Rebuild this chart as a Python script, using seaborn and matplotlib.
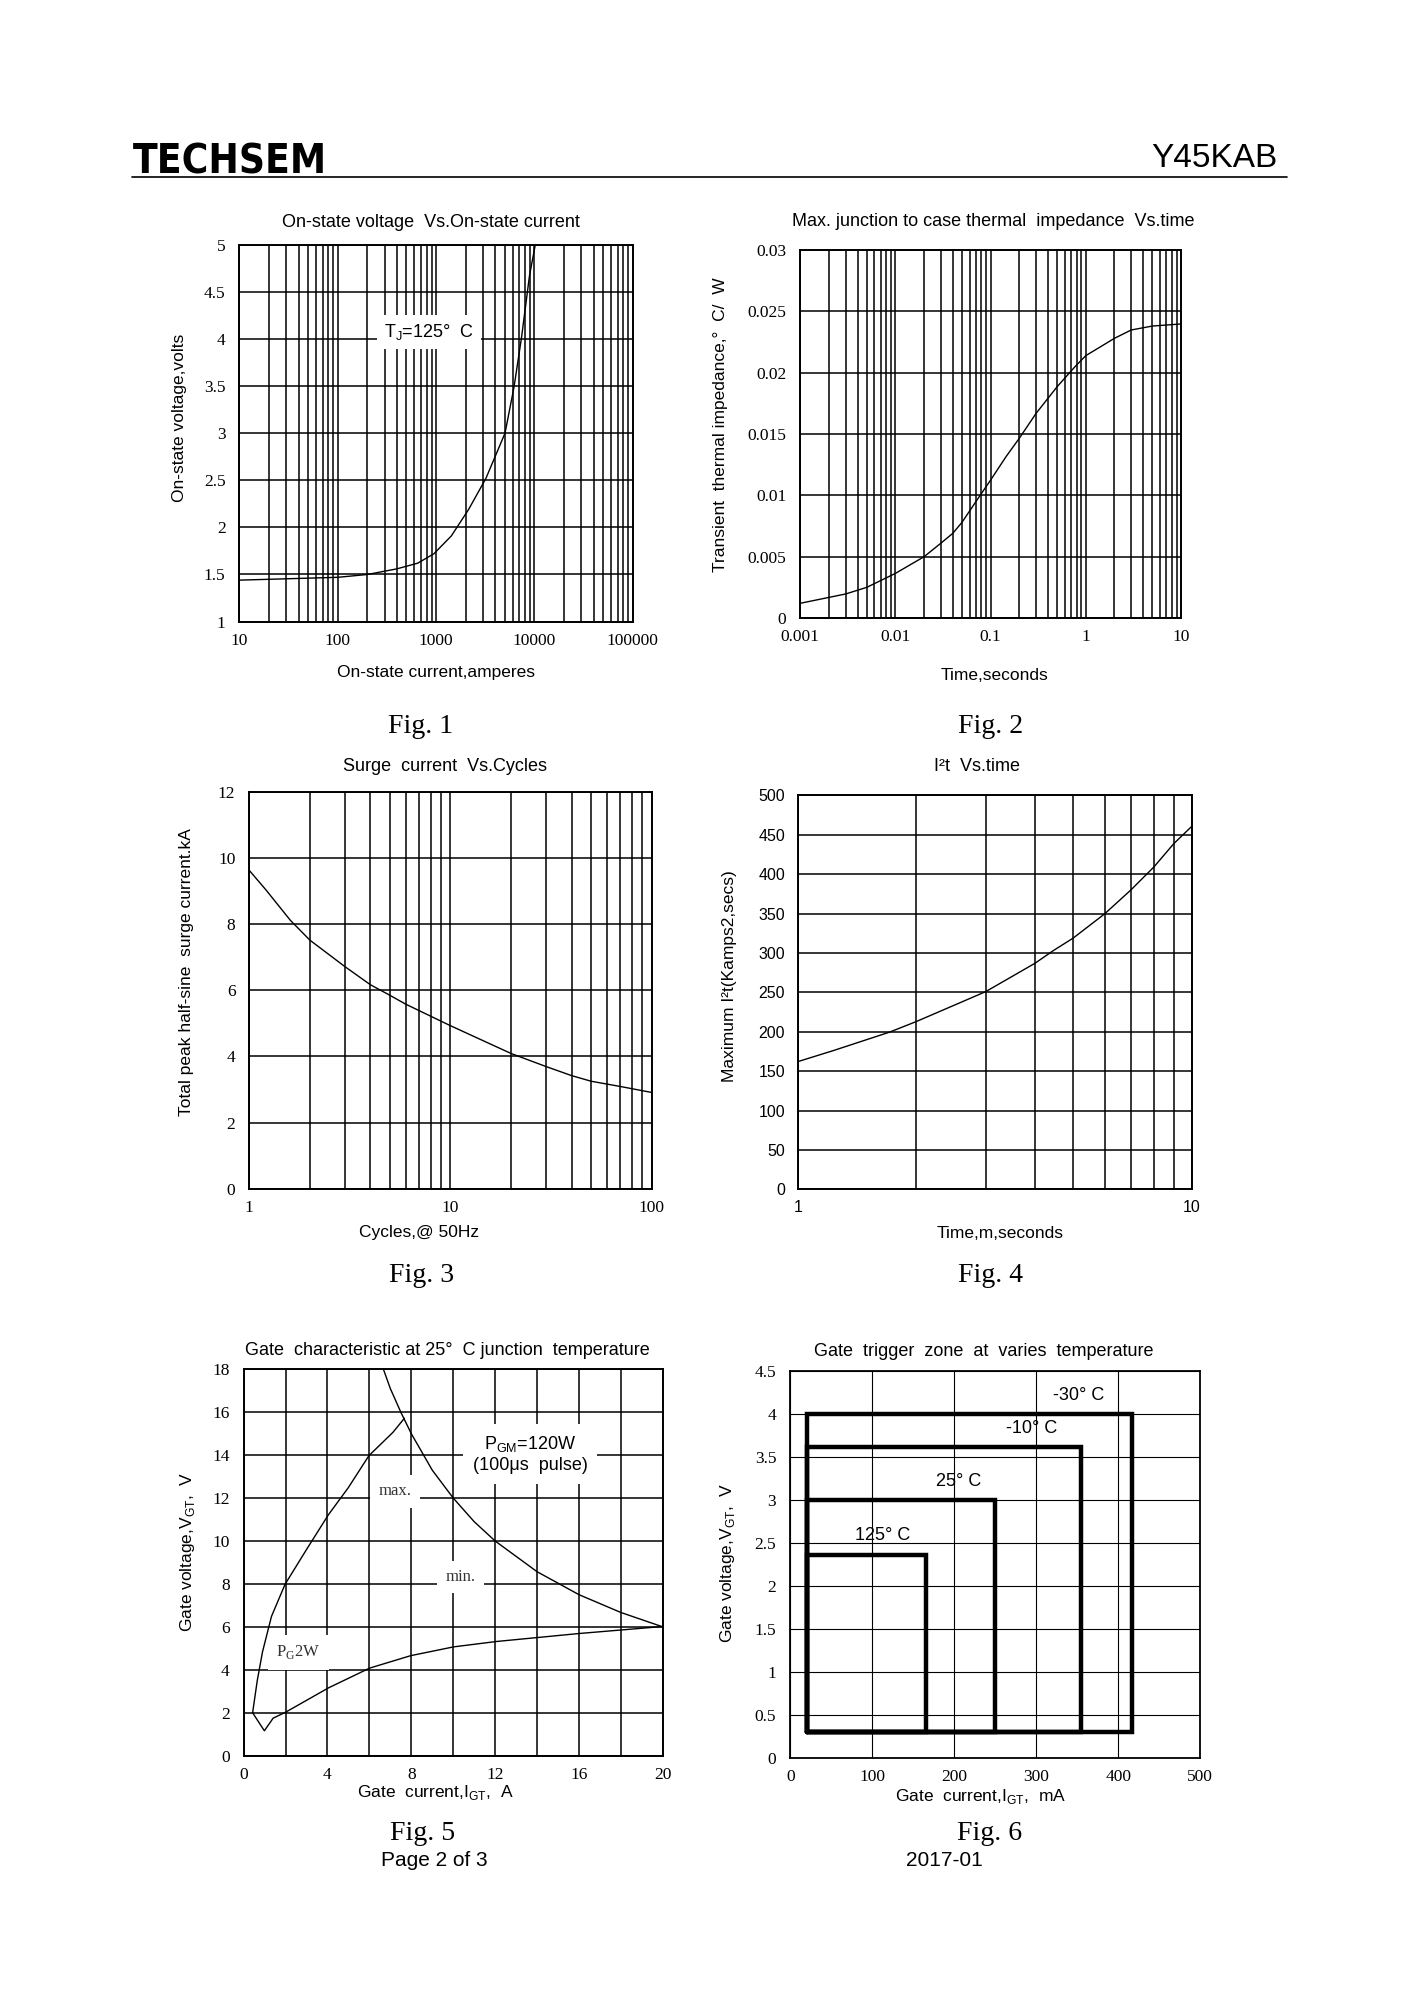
import numpy as np
import pandas as pd
import matplotlib
matplotlib.use('Agg')
import matplotlib.pyplot as plt
from matplotlib import font_manager
from matplotlib.lines import Line2D
from matplotlib.ticker import NullFormatter
import seaborn as sns

# --- data ---

# Fig.1 on-state voltage vs on-state current (Tj=125C)
vt_current = [10, 100, 200, 400, 650, 950, 1430, 2140, 3210, 5020, 6200, 7400, 8900, 10200]
vt_voltage = [1.44, 1.47, 1.50, 1.56, 1.62, 1.72, 1.91, 2.19, 2.52, 3.00, 3.49, 4.02, 4.67, 5.00]

# Fig.2 transient thermal impedance vs time
zth_time = [0.001, 0.002, 0.003, 0.005, 0.01, 0.02, 0.03, 0.04, 0.05, 0.076, 0.1, 0.145, 0.2, 0.3,
            0.5, 0.77, 1, 2, 3, 5, 10]
zth_value = [0.0012, 0.00168, 0.00196, 0.0025, 0.00364, 0.0050, 0.0061, 0.0069, 0.0078, 0.0099,
             0.01125, 0.01315, 0.01465, 0.01668, 0.01886, 0.02049, 0.02139, 0.0228, 0.02348,
             0.0238, 0.02397]

# Fig.3 surge current vs cycles
surge_cycles = [1, 1.21, 1.6, 2, 3, 4, 5, 6, 10, 20, 30, 40, 50, 70, 100]
surge_ka = [9.63, 9.04, 8.12, 7.52, 6.71, 6.17, 5.85, 5.58, 4.93, 4.09, 3.69, 3.42, 3.25, 3.09, 2.91]

# Fig.4 I2t vs time
i2t_time = [1, 1.23, 1.71, 2, 2.53, 3, 3.52, 4, 4.45, 5, 6, 7, 8, 9, 10]
i2t_value = [162, 176, 199.5, 213, 235, 251, 271, 287, 303, 319, 349.5, 380, 409, 439, 461]

# Fig.5 gate characteristic
pgm_current = [6.67, 7, 7.5, 8, 9, 10, 11, 12, 14, 16, 18, 20]
pgm_voltage = [18, 17.1, 16, 15, 13.3, 12, 10.9, 10, 8.57, 7.5, 6.67, 6]
gate_max_i = [0.43, 0.65, 0.90, 1.33, 1.98, 3.03, 4.05, 4.99, 5.98, 7.12, 7.67]
gate_max_v = [2.0, 3.49, 4.83, 6.49, 7.99, 9.65, 11.23, 12.48, 13.98, 15.06, 15.72]
gate_min_i = [0.43, 0.99, 1.41, 2.01, 4.05, 6.01, 7.97, 10.02, 12.06, 15.98, 20]
gate_min_v = [2.0, 1.16, 1.75, 2.03, 3.16, 4.08, 4.66, 5.07, 5.32, 5.69, 6.02]

# Fig.6 gate trigger zones
zone_labels = ['-30° C', '-10° C', '25° C', '125° C']
zone_igt_min = 20
zone_vgt_min = 0.3
zone_igt_max = [417, 355, 250, 166]
zone_vgt_max = [4.0, 3.62, 3.0, 2.36]

W, H = 1414, 2000

sns.set_style('white')
plt.rcParams['font.family'] = ['Liberation Sans', 'DejaVu Sans']
plt.rcParams.update({'text.color': 'black', 'axes.labelcolor': 'black',
                     'xtick.color': 'black', 'ytick.color': 'black'})
SERIF = 'Liberation Serif'

fig = plt.figure(figsize=(W / 100, H / 100), dpi=100)


def panel(l, t, r, b):
    # axes from page pixel box
    return fig.add_axes([l / W, 1 - b / H, (r - l) / W, (b - t) / H])


def page(px, py):
    return px / W, 1 - py / H


def frame(ax, grid_lw=1.1, spine_lw=1.4):
    ax.grid(True, which='both', color='black', linewidth=grid_lw)
    for s in ax.spines.values():
        s.set_color('black')
        s.set_linewidth(spine_lw)
    ax.tick_params(which='both', length=0)


def labels(ax, title, tpos, xlabel, xpos, ylabel, ypos, fig_no, fpos):
    fig.text(*page(*tpos), title, ha='center', va='center', fontsize=13)
    ax.set_xlabel(xlabel, fontsize=12.5, va='center')
    ax.xaxis.set_label_coords(*page(*xpos), transform=fig.transFigure)
    ax.set_ylabel(ylabel, fontsize=12.5, va='center', ha='center')
    ax.yaxis.set_label_coords(*page(*ypos), transform=fig.transFigure)
    fig.text(*page(*fpos), fig_no, ha='center', va='center', fontsize=20, family=SERIF)


# header logo: prefer a condensed bold sans if one is installed
logo_font = None
for f in font_manager.fontManager.ttflist:
    narrow = ('narrow' in f.name.lower() or 'condensed' in f.name.lower()
              or str(f.stretch) in ('condensed', 'semi-condensed', 'extra-condensed'))
    if narrow and str(f.weight) in ('700', 'bold') and f.style == 'normal':
        logo_font = font_manager.FontProperties(fname=f.fname, size=34.5)
        break
if logo_font is None:
    logo_font = font_manager.FontProperties(family='Liberation Sans', weight='bold', size=34.5)
logo = fig.text(*page(133, 173), 'TECHSEM', fontproperties=logo_font, ha='left', va='baseline')
# fit the logo to its width on the page (about 194 px)
fig.canvas.draw()
logo.set_fontsize(34.5 * 194 / logo.get_window_extent().width)

fig.text(*page(1277, 167), 'Y45KAB', fontsize=24, ha='right', va='baseline')
fig.add_artist(Line2D([132 / W, 1287 / W], [1 - 177 / H] * 2, color='black', lw=1.2))

# ---- Fig.1 ----
ax1 = panel(239.4, 244.7, 632.8, 621.6)
sns.lineplot(data=pd.DataFrame({'i': vt_current, 'v': vt_voltage}), x='i', y='v',
             color='black', linewidth=1.0, ax=ax1)
ax1.set_xscale('log')
ax1.set_xlim(10, 100000)
ax1.set_ylim(1, 5)
ax1.set_xticks([10, 100, 1000, 10000, 100000], ['10', '100', '1000', '10000', '100000'])
ax1.set_yticks(np.arange(1, 5.01, 0.5), ['1', '1.5', '2', '2.5', '3', '3.5', '4', '4.5', '5'])
ax1.xaxis.set_minor_formatter(NullFormatter())
frame(ax1)
ax1.tick_params(axis='x', pad=8, labelsize=12.5, labelfontfamily=SERIF)
ax1.tick_params(axis='y', pad=10, labelsize=12.5, labelfontfamily=SERIF)
ax1.text(843, 4.07, 'T$_\\mathregular{J}$=125°  C', fontsize=13, ha='center', va='center',
         bbox=dict(facecolor='white', edgecolor='none', pad=5))
labels(ax1, 'On-state voltage  Vs.On-state current', (430.5, 222.5),
       'On-state current,amperes', (436, 672), 'On-state voltage,volts', (179, 418),
       'Fig. 1', (421, 727))

# ---- Fig.2 ----
ax2 = panel(800.3, 250, 1181, 618)
sns.lineplot(data=pd.DataFrame({'t': zth_time, 'z': zth_value}), x='t', y='z',
             color='black', linewidth=1.0, ax=ax2)
ax2.set_xscale('log')
ax2.set_xlim(0.001, 10)
ax2.set_ylim(0, 0.03)
ax2.set_xticks([0.001, 0.01, 0.1, 1, 10], ['0.001', '0.01', '0.1', '1', '10'])
ax2.set_yticks(np.arange(0, 0.0301, 0.005),
               ['0', '0.005', '0.01', '0.015', '0.02', '0.025', '0.03'])
ax2.xaxis.set_minor_formatter(NullFormatter())
frame(ax2)
ax2.tick_params(axis='x', pad=8, labelsize=12.5, labelfontfamily=SERIF)
ax2.tick_params(axis='y', pad=10, labelsize=12.5, labelfontfamily=SERIF)
labels(ax2, 'Max. junction to case thermal  impedance  Vs.time', (993.7, 221.7),
       'Time,seconds', (994.7, 675), 'Transient  thermal impedance,°  C/  W', (721, 425),
       'Fig. 2', (991, 727))

# ---- Fig.3 ----
ax3 = panel(249.3, 792.1, 651.6, 1188.6)
sns.lineplot(data=pd.DataFrame({'n': surge_cycles, 'ka': surge_ka}), x='n', y='ka',
             color='black', linewidth=1.0, ax=ax3)
ax3.set_xscale('log')
ax3.set_xlim(1, 100)
ax3.set_ylim(0, 12)
ax3.set_xticks([1, 10, 100], ['1', '10', '100'])
ax3.set_yticks(np.arange(0, 12.1, 2), ['0', '2', '4', '6', '8', '10', '12'])
ax3.xaxis.set_minor_formatter(NullFormatter())
frame(ax3)
ax3.tick_params(axis='x', pad=8, labelsize=12.5, labelfontfamily=SERIF)
ax3.tick_params(axis='y', pad=10, labelsize=12.5, labelfontfamily=SERIF)
labels(ax3, 'Surge  current  Vs.Cycles', (444.6, 766.8),
       'Cycles,@ 50Hz', (419, 1233), 'Total peak half-sine  surge current.kA', (186.8, 972),
       'Fig. 3', (421.8, 1275.7))

# ---- Fig.4 ----
ax4 = panel(797.7, 795.4, 1192, 1189.3)
sns.lineplot(data=pd.DataFrame({'t': i2t_time, 'i2t': i2t_value}), x='t', y='i2t',
             color='black', linewidth=1.0, ax=ax4)
ax4.set_xscale('log')
ax4.set_xlim(1, 10)
ax4.set_ylim(0, 500)
ax4.set_xticks([1, 10], ['1', '10'])
ax4.set_yticks(np.arange(0, 501, 50))
ax4.xaxis.set_minor_formatter(NullFormatter())
frame(ax4)
ax4.tick_params(axis='x', pad=8, labelsize=11.5)
ax4.tick_params(axis='y', pad=9, labelsize=11.5)
labels(ax4, 'I²t  Vs.time', (976.7, 766.8),
       'Time,m,seconds', (1000, 1233), 'Maximum I²t(Kamps2,secs)', (729.3, 975.7),
       'Fig. 4', (990, 1275.7))

# ---- Fig.5 ----
ax5 = panel(243.6, 1369.3, 662.9, 1755.7)
for xs, ys in [(pgm_current, pgm_voltage), (gate_max_i, gate_max_v), (gate_min_i, gate_min_v)]:
    sns.lineplot(x=xs, y=ys, sort=False, estimator=None, color='black', linewidth=1.0, ax=ax5)
ax5.set_xlim(0, 20)
ax5.set_ylim(0, 18)
ax5.set_xticks(np.arange(0, 21, 4))
ax5.set_xticks(np.arange(2, 20, 4), minor=True)
ax5.set_yticks(np.arange(0, 19, 2))
frame(ax5)
ax5.tick_params(axis='x', pad=8, labelsize=12.5, labelfontfamily=SERIF)
ax5.tick_params(axis='y', pad=10, labelsize=12.5, labelfontfamily=SERIF)
box = dict(facecolor='white', edgecolor='none', pad=6)
ax5.text(13.66, 14.05, 'P$_\\mathregular{GM}$=120W\n(100μs  pulse)', fontsize=13,
         ha='center', va='center', bbox=dict(facecolor='white', edgecolor='none', pad=7))
ax5.text(7.21, 12.31, 'max.', fontsize=12, family=SERIF, color='#333333',
         ha='center', va='center', bbox=box)
ax5.text(10.36, 8.32, 'min.', fontsize=12, family=SERIF, color='#333333',
         ha='center', va='center', bbox=box)
ax5.text(2.61, 4.82, 'P$_\\mathregular{G}$2W', fontsize=12, family=SERIF, color='#333333',
         ha='center', va='center', bbox=box)
labels(ax5, 'Gate  characteristic at 25°  C junction  temperature', (447.3, 1350.4),
       'Gate  current,I$_\\mathregular{GT}$,  A', (435.7, 1793),
       'Gate voltage,V$_\\mathregular{GT}$,  V', (187.5, 1552), 'Fig. 5', (423, 1834))
fig.text(*page(434, 1861), 'Page 2 of 3', ha='center', va='center', fontsize=15)

# ---- Fig.6 ----
ax6 = panel(790.2, 1371, 1200.3, 1757.9)
for xr, yt in zip(zone_igt_max, zone_vgt_max):
    rect = pd.DataFrame({'igt': [zone_igt_min, zone_igt_min, xr, xr, zone_igt_min],
                         'vgt': [zone_vgt_min, yt, yt, zone_vgt_min, zone_vgt_min]})
    sns.lineplot(data=rect, x='igt', y='vgt', sort=False, estimator=None, color='black',
                 linewidth=3.2, solid_joinstyle='miter', ax=ax6)
ax6.set_xlim(0, 500)
ax6.set_ylim(0, 4.5)
ax6.set_xticks(np.arange(0, 501, 100))
ax6.set_yticks(np.arange(0, 4.51, 0.5),
               ['0', '0.5', '1', '1.5', '2', '2.5', '3', '3.5', '4', '4.5'])
frame(ax6, grid_lw=0.8, spine_lw=1.3)
ax6.tick_params(axis='x', pad=8, labelsize=12.5, labelfontfamily=SERIF)
ax6.tick_params(axis='y', pad=10, labelsize=12.5, labelfontfamily=SERIF)
for lab, (lx, ly) in zip(zone_labels, [(351.8, 4.22), (293.9, 3.83), (204.9, 3.22), (112.5, 2.59)]):
    ax6.text(lx, ly, lab, fontsize=13, ha='center', va='center')
labels(ax6, 'Gate  trigger  zone  at  varies  temperature', (984, 1352),
       'Gate  current,I$_\\mathregular{GT}$,  mA', (980.6, 1796.8),
       'Gate voltage,V$_\\mathregular{GT}$,  V', (727.5, 1563), 'Fig. 6', (990, 1834))
fig.text(*page(944.5, 1861), '2017-01', ha='center', va='center', fontsize=15)

fig.savefig('out.png', dpi=100, facecolor='white')
